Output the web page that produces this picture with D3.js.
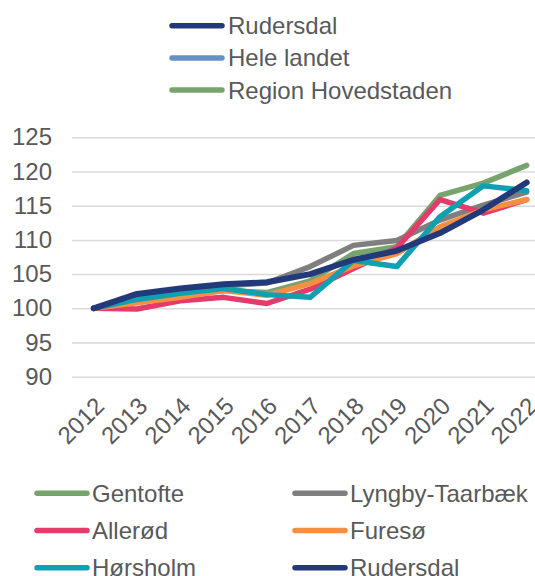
<!DOCTYPE html>
<html>
<head>
<meta charset="utf-8">
<script src="https://cdn.jsdelivr.net/npm/d3@7"></script>
<style>
	body { margin: 0; background: #fff; }
	svg { font-family: "Liberation Sans", Arial, sans-serif; }
</style>
</head>
<body>
<div id="chart"></div>
<script>
////////////
// DATA //
////////////
var years = ["2012", "2013", "2014", "2015", "2016", "2017", "2018", "2019", "2020", "2021", "2022"];
var yTicks = [90, 95, 100, 105, 110, 115, 120, 125];

var gentofte = [100, 101.0, 101.8, 102.6, 102.3, 104.0, 108.0, 109.0, 116.5, 118.3, 120.9];
var lyngby = [100, 101.6, 102.6, 103.3, 103.7, 106.1, 109.2, 109.9, 112.9, 115.1, 117.0];
var alleroed = [100, 99.9, 101.1, 101.6, 100.7, 102.8, 105.8, 108.8, 115.9, 113.9, 115.9];
var furesoe = [100, 100.8, 101.6, 102.6, 101.9, 103.6, 106.2, 108.0, 111.9, 114.4, 115.9];
var hoersholm = [100, 101.3, 102.2, 102.9, 102.0, 101.6, 107.0, 106.1, 113.4, 117.9, 117.2];
var rudersdal = [100, 102.1, 102.9, 103.5, 103.8, 105.0, 107.1, 108.4, 111.0, 114.4, 118.4];

var seriesNames = ["Gentofte", "Lyngby-Taarbæk", "Allerød", "Furesø", "Hørsholm", "Rudersdal"];
var seriesValues = [gentofte, lyngby, alleroed, furesoe, hoersholm, rudersdal];

var topLegendNames = ["Rudersdal", "Hele landet", "Region Hovedstaden"];

/////////////////
// "CONSTANTS" //
/////////////////
var WIDTH = 535;
var HEIGHT = 576;
var PLOT_LEFT = 72;
var BAND = 43.3;
var TEXT_COLOR = "#595959";
var GRID_COLOR = "#d9d9d9";
var FONT_SIZE = 24;
var LINE_WIDTH = 5.5;
var SERIES_COLORS = ["#76a46c", "#7f7f7f", "#e33b6c", "#f78f42", "#10a0b2", "#233a7a"];
var TOP_LEGEND_COLORS = ["#233a7a", "#6591c6", "#76a46c"];

var svg = d3.select("#chart").append("svg")
	.attr("width", WIDTH)
	.attr("height", HEIGHT);

var x = d3.scaleBand()
	.domain(years)
	.range([PLOT_LEFT, PLOT_LEFT + BAND * years.length])
	.padding(0);

var y = d3.scaleLinear()
	.domain([90, 125])
	.range([376.7, 137.3]);

var xc = function(yr) { return x(yr) + x.bandwidth() / 2; };

// grid
svg.append("g")
	.attr("transform", "translate(" + PLOT_LEFT + ",0)")
	.call(d3.axisLeft(y).tickValues(yTicks).tickSize(-(BAND * years.length)).tickFormat(""))
	.call(function(g) { g.select(".domain").remove(); })
	.selectAll("line")
	.attr("stroke", GRID_COLOR)
	.attr("stroke-width", 1.5);

// y labels
svg.append("g")
	.attr("transform", "translate(" + PLOT_LEFT + ",0)")
	.call(d3.axisLeft(y).tickValues(yTicks).tickSize(0).tickPadding(20))
	.call(function(g) { g.select(".domain").remove(); })
	.selectAll("text")
	.attr("fill", TEXT_COLOR)
	.attr("font-size", FONT_SIZE)
	.attr("font-family", "Liberation Sans, Arial, sans-serif");

// x labels
svg.append("g")
	.attr("transform", "translate(0," + y(90) + ")")
	.call(d3.axisBottom(x).tickSize(0))
	.call(function(g) { g.select(".domain").remove(); })
	.selectAll("text")
	.attr("fill", TEXT_COLOR)
	.attr("font-size", FONT_SIZE)
	.attr("font-family", "Liberation Sans, Arial, sans-serif")
	.attr("text-anchor", "end")
	.attr("x", 0)
	.attr("y", 0)
	.attr("dy", "0.35em")
	.attr("transform", "translate(6,25) rotate(-45)");

// lines
var line = d3.line()
	.x(function(d, i) { return xc(years[i]); })
	.y(function(d) { return y(d); });

seriesValues.forEach(function(vals, i) {
	svg.append("path")
		.datum(vals)
		.attr("fill", "none")
		.attr("stroke", SERIES_COLORS[i])
		.attr("stroke-width", i == 5 ? 6 : LINE_WIDTH)
		.attr("stroke-linejoin", "round")
		.attr("stroke-linecap", "round")
		.attr("d", line);
});

// top legend
var topLegend = svg.append("g");
topLegendNames.forEach(function(name, i) {
	var ly = 25.7 + i * 32.2;
	topLegend.append("line")
		.attr("x1", 172).attr("x2", 222)
		.attr("y1", ly).attr("y2", ly)
		.attr("stroke", TOP_LEGEND_COLORS[i])
		.attr("stroke-width", LINE_WIDTH)
		.attr("stroke-linecap", "round");
	topLegend.append("text")
		.attr("x", 228)
		.attr("y", ly)
		.attr("dy", "0.35em")
		.attr("fill", TEXT_COLOR)
		.attr("font-size", FONT_SIZE)
		.text(name);
});

// bottom legend
var bottomLegend = svg.append("g");
seriesNames.forEach(function(name, i) {
	var col = i % 2;
	var row = Math.floor(i / 2);
	var lx = col == 0 ? 37 : 295;
	var ly = 493.3 + row * 37.2;
	bottomLegend.append("line")
		.attr("x1", lx).attr("x2", lx + 50)
		.attr("y1", ly).attr("y2", ly)
		.attr("stroke", SERIES_COLORS[i])
		.attr("stroke-width", LINE_WIDTH)
		.attr("stroke-linecap", "round");
	bottomLegend.append("text")
		.attr("x", lx + 55)
		.attr("y", ly)
		.attr("dy", "0.35em")
		.attr("fill", TEXT_COLOR)
		.attr("font-size", FONT_SIZE)
		.text(name);
});
</script>
</body>
</html>
